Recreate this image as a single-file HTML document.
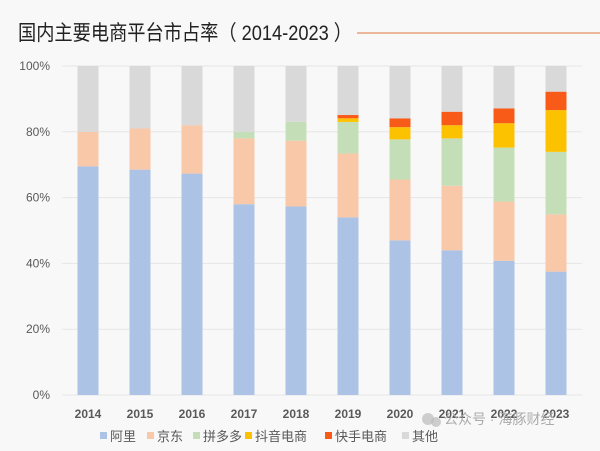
<!DOCTYPE html>
<html><head><meta charset="utf-8"><style>
html,body{margin:0;padding:0;background:#f8f8f8;}
body{width:600px;height:446px;overflow:hidden;font-family:"Liberation Sans","Noto Sans CJK SC",sans-serif;}
</style></head><body>
<svg id="chart" width="600" height="446" xmlns="http://www.w3.org/2000/svg" style="font-family:'Liberation Sans','Noto Sans CJK SC',sans-serif">
<rect width="600" height="446" fill="#f8f8f8"/>
<text x="18" y="40" font-size="21" fill="#222" textLength="334" lengthAdjust="spacingAndGlyphs">国内主要电商平台市占率（ 2014-2023 ）</text>
<line x1="357" y1="33" x2="600" y2="33" stroke="#e8a07a" stroke-width="1.5"/>
<g id="grid"></g><g id="bars"></g><g id="xlabels"></g><g id="legend"></g>
<g>
<circle cx="428" cy="419" r="6" fill="#bbb" opacity="0.7"/><circle cx="436" cy="422" r="5" fill="#bbb" opacity="0.7"/>
<text x="444" y="424" font-size="14" fill="#aaa">公众号 · 海豚财经</text></g>
</svg>
<script>
const years=["2014","2015","2016","2017","2018","2019","2020","2021","2022","2023"];
const ali=[69.5,68.5,67.3,58,57.3,54,47,44,40.8,37.5];
const jd=[10.5,12.5,14.7,20,20,19.4,18.5,19.6,18,17.4];
const pdd=[0,0,0,2,5.7,9.6,12.2,14.4,16.4,19];
const douyin=[0,0,0,0,0,1.1,3.7,4,7.4,12.7];
const kuaishou=[0,0,0,0,0,1,2.7,4.1,4.5,5.6];
const yTicks=[0,20,40,60,80,100];
const seriesNames=["阿里","京东","拼多多","抖音电商","快手电商","其他"];
const colors=["#adc3e6","#f8c8a8","#c4dfb8","#fcc200","#f85a17","#d9d9d9"];
const NS="http://www.w3.org/2000/svg";
const y0=395,y1=66,x0=88,step=52,bw=21;
const yS=v=>y0-(y0-y1)*v/100;
const xS=i=>x0+i*step;
function mk(t,a,p){const e=document.createElementNS(NS,t);for(const k in a)e.setAttribute(k,a[k]);p.appendChild(e);return e;}
const grid=document.getElementById('grid');
yTicks.forEach(t=>{
 const l=mk('line',{x1:62,x2:582,y1:yS(t),y2:yS(t),stroke:'#e6e6e6','stroke-width':1},grid);
 
 
 const tx=mk('text',{x:50,y:yS(t)+4,'text-anchor':'end','font-size':12,fill:'#595959'},grid);
 tx.textContent=t+'%';
 
 
});
const bars=document.getElementById('bars');
const keys=["ali","jd","pdd","douyin","kuaishou","other"];
years.forEach((yr,i)=>{
 const vals=[ali[i],jd[i],pdd[i],douyin[i],kuaishou[i]];
 vals.push(100-vals.reduce((a,b)=>a+b,0));
 let c=0;
 vals.forEach((v,s)=>{
  if(v<=0)return;
  const r=mk('rect',{x:xS(i)-bw/2,y:yS(c+v),width:bw,height:yS(c)-yS(c+v),fill:colors[s]},bars);
  
  
  c+=v;
 });
 const tx=mk('text',{x:xS(i),y:418,'text-anchor':'middle','font-size':12,'font-weight':'bold',fill:'#595959'},document.getElementById('xlabels'));
 tx.textContent=yr;
 
 
});
const lg=document.getElementById('legend');
const lx=[100,147,193,245,325,402];
seriesNames.forEach((n,s)=>{
 const g=mk('g',{},lg);
 
 
 mk('rect',{x:lx[s],y:432,width:7,height:7,fill:colors[s]},g);
 const t=mk('text',{x:lx[s]+10,y:441,'font-size':13,fill:'#595959'},g);
 t.textContent=n;
});
</script>
</body></html>
